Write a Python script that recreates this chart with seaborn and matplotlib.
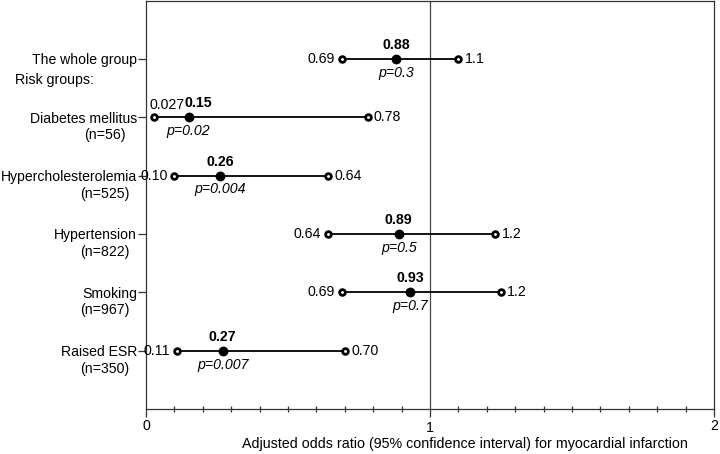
import pandas as pd
import seaborn as sns
import matplotlib.pyplot as plt
from matplotlib.ticker import MultipleLocator, FixedLocator
from matplotlib import transforms

# data
groups = ["The whole group", "Diabetes mellitus", "Hypercholesterolemia",
          "Hypertension", "Smoking", "Raised ESR"]
n_labels = ["", "(n=56)", "(n=525)", "(n=822)", "(n=967)", "(n=350)"]
odds = [0.88, 0.15, 0.26, 0.89, 0.93, 0.27]
ci_low = [0.69, 0.027, 0.10, 0.64, 0.69, 0.11]
ci_high = [1.10, 0.78, 0.64, 1.23, 1.25, 0.70]
low_text = ["0.69", "0.027", "0.10", "0.64", "0.69", "0.11"]
high_text = ["1.1", "0.78", "0.64", "1.2", "1.2", "0.70"]
odds_text = ["0.88", "0.15", "0.26", "0.89", "0.93", "0.27"]
p_text = ["p=0.3", "p=0.02", "p=0.004", "p=0.5", "p=0.7", "p=0.007"]

df = pd.DataFrame({"group": groups, "row": range(len(groups)), "odds": odds,
                   "low": ci_low, "high": ci_high})
ends = pd.melt(df, id_vars=["row"], value_vars=["low", "high"])

sns.set_theme(style="ticks")
plt.rcParams["font.family"] = ["Liberation Sans", "DejaVu Sans"]
plt.rcParams["font.size"] = 10.2
plt.rcParams["text.color"] = "black"
plt.rcParams["xtick.labelcolor"] = "black"
plt.rcParams["ytick.labelcolor"] = "black"
plt.rcParams["axes.labelcolor"] = "black"

fig = plt.figure(figsize=(7.2, 4.54), dpi=100)
ax = fig.add_axes([146 / 720, 1 - 409 / 454, 568 / 720, 408.5 / 454])

# reference line at 1
ax.axvline(1, color="#444444", lw=0.9, zorder=1)

# confidence interval lines
ax.hlines(df["row"], df["low"], df["high"], color="black", lw=1.3, zorder=2)

# interval ends (open circles) and point estimates
sns.scatterplot(data=ends, x="value", y="row", ax=ax, marker="o", s=17,
                facecolor="white", edgecolor="black", linewidth=2.0, zorder=3,
                legend=False)
sns.scatterplot(data=df, x="odds", y="row", ax=ax, marker="o", s=50,
                color="black", edgecolor="black", linewidth=0, zorder=4,
                legend=False)

for i in range(len(groups)):
    crowded = ci_low[i] < 0.05
    if crowded:
        ax.annotate(low_text[i], (ci_low[i], i), xytext=(-3, 9),
                    textcoords="offset points", ha="left", va="center")
        est_dx = 7
    else:
        ax.annotate(low_text[i], (ci_low[i], i), xytext=(-5, 0),
                    textcoords="offset points", ha="right", va="center",
                    annotation_clip=False)
        est_dx = 0
    ax.annotate(high_text[i], (ci_high[i], i), xytext=(4.5, 0),
                textcoords="offset points", ha="left", va="center")
    ax.annotate(odds_text[i], (odds[i], i), xytext=(est_dx, 10),
                textcoords="offset points", ha="center", va="center",
                fontweight="bold")
    ax.annotate(p_text[i], (odds[i], i), xytext=(0, -10),
                textcoords="offset points", ha="center", va="center",
                style="italic")

# axes
ax.set_xlim(0, 2)
ax.set_ylim(6.0, -1.0)
ax.set_yticks(df["row"])
ax.set_yticklabels(groups)
ax.set_ylabel("")
ax.xaxis.set_major_locator(FixedLocator([0, 1, 2]))
ax.xaxis.set_minor_locator(MultipleLocator(0.1))
ax.tick_params(axis="y", length=6, width=0.9, pad=0.5, labelsize=10.1, color="#333333")
ax.tick_params(axis="x", which="major", direction="out", length=6, width=0.9,
               pad=1, labelsize=10.2, color="#333333")
ax.tick_params(axis="x", which="minor", direction="inout", length=4, width=0.9,
               color="#333333")
ax.set_xlabel("Adjusted odds ratio (95% confidence interval) for myocardial infarction",
              fontsize=10.3)
ax.xaxis.set_label_coords(0.562, -0.068)
for lab in ax.get_xticklabels():
    if lab.get_text() == "1":
        lab.set_transform(lab.get_transform() +
                          transforms.ScaledTranslation(0, -1.5 / 72, fig.dpi_scale_trans))

for side in ["left", "right", "top", "bottom"]:
    ax.spines[side].set_color("#333333")
    ax.spines[side].set_linewidth(0.9)

# sample sizes under the group names and the "Risk groups:" heading
ylab = transforms.blended_transform_factory(ax.transAxes, ax.transData)
for i, nl in enumerate(n_labels):
    if nl:
        ax.text(-0.072, i + 0.31, nl, transform=ylab, ha="center", va="center")
ax.text(-0.2306, 0.36, "Risk groups:", transform=ylab, ha="left", va="center")

fig.savefig("out.png", dpi=100)
plt.close(fig)
